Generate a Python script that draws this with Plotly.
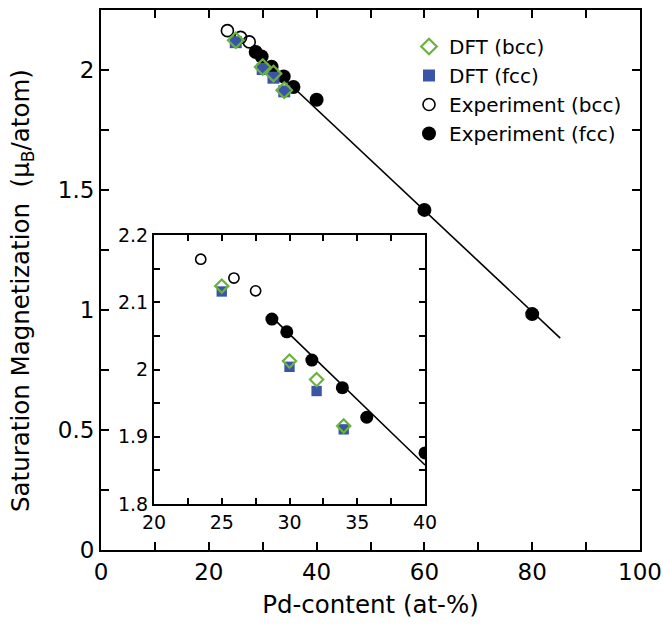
import plotly.graph_objects as go

# Pd content (at-%) and saturation magnetization (mu_B/atom)
exp_bcc_x = [23.45, 25.9, 27.5]
exp_bcc_y = [2.164, 2.136, 2.117]

exp_fcc_x = [28.7, 29.8, 31.65, 33.9, 35.7, 40.0, 60.0, 80.0]
exp_fcc_y = [2.075, 2.056, 2.014, 1.973, 1.929, 1.876, 1.417, 0.983]

dft_bcc_x = [25.0, 30.0, 32.0, 34.0]
dft_bcc_y = [2.124, 2.0125, 1.985, 1.916]

dft_fcc_x = [25.0, 30.0, 32.0, 34.0]
dft_fcc_y = [2.116, 2.004, 1.968, 1.911]

# linear fit through the fcc data (main panel and zoomed panel)
fit_x = [28.7, 85.2]
fit_y = [2.075, 0.883]
fit_inset_x = [28.7, 40.0]
fit_inset_y = [2.078, 1.858]

FONT = "DejaVu Sans, Verdana, sans-serif"
GREEN = "#6ab23e"
BLUE = "#3a54a6"

fig = go.Figure()


def add_panel(xa, ya, show, big):
    s = 1.0 if big else 0.85
    fig.add_trace(go.Scatter(
        x=exp_bcc_x, y=exp_bcc_y, mode="markers", name="Experiment (bcc)",
        xaxis=xa, yaxis=ya, showlegend=show, legendrank=3,
        marker=dict(symbol="circle-open", size=12 * s, color="black",
                    line=dict(width=1.6, color="black"))))
    fig.add_trace(go.Scatter(
        x=exp_fcc_x, y=exp_fcc_y, mode="markers", name="Experiment (fcc)",
        xaxis=xa, yaxis=ya, showlegend=show, legendrank=4,
        marker=dict(symbol="circle", size=14 if big else 13, color="black")))
    fig.add_trace(go.Scatter(
        x=fit_x if big else fit_inset_x, y=fit_y if big else fit_inset_y,
        mode="lines", xaxis=xa, yaxis=ya, showlegend=False, hoverinfo="skip",
        line=dict(color="black", width=1.6), cliponaxis=True))
    fig.add_trace(go.Scatter(
        x=dft_fcc_x, y=dft_fcc_y, mode="markers", name="DFT (fcc)",
        xaxis=xa, yaxis=ya, showlegend=show, legendrank=2,
        marker=dict(symbol="square", size=11 * s + 1, color=BLUE,
                    line=dict(width=0))))
    fig.add_trace(go.Scatter(
        x=dft_bcc_x, y=dft_bcc_y, mode="markers", name="DFT (bcc)",
        xaxis=xa, yaxis=ya, showlegend=show, legendrank=1,
        marker=dict(symbol="diamond-open", size=12 * s, color=GREEN,
                    line=dict(width=2.2, color=GREEN))))


add_panel("x", "y", True, True)
add_panel("x2", "y2", False, False)

W, H = 663, 627


def xd(a, b):
    return [a / W, b / W]


def yd(top, bottom):
    return [1 - bottom / H, 1 - top / H]


axis_common = dict(showline=True, linecolor="black", mirror="allticks",
                   ticks="inside", tickcolor="black", showgrid=False,
                   zeroline=False, fixedrange=True, automargin=False)

fig.update_layout(
    width=W, height=H,
    margin=dict(l=0, r=0, t=0, b=0),
    paper_bgcolor="white", plot_bgcolor="white",
    font=dict(family=FONT, color="black"),
    xaxis=dict(domain=xd(101, 640), range=[0, 100], dtick=20, tick0=0,
               linewidth=2, ticklen=8, tickwidth=1.5,
               minor=dict(dtick=10, ticklen=8, tickwidth=1.5, tickcolor="black", ticks="inside"),
               tickfont=dict(size=23),
               title=dict(text="Pd-content (at-%)", font=dict(size=24.5), standoff=12),
               **axis_common),
    yaxis=dict(domain=yd(10, 550), range=[0, 2.25], dtick=0.5, tick0=0,
               linewidth=2, ticklen=8, tickwidth=1.5,
               minor=dict(dtick=0.25, ticklen=8, tickwidth=1.5, tickcolor="black", ticks="inside"),
               tickfont=dict(size=23),
               **axis_common),
    xaxis2=dict(domain=xd(154, 425), range=[20, 40], dtick=5, tick0=20,
                anchor="y2", linewidth=2, ticklen=6, tickwidth=1.5,
                minor=dict(dtick=2.5, ticklen=6, tickwidth=1.5, tickcolor="black", ticks="inside"),
                tickfont=dict(size=19), **axis_common),
    yaxis2=dict(domain=yd(235, 504), range=[1.8, 2.2], dtick=0.1, tick0=1.8,
                anchor="x2", linewidth=2, ticklen=6, tickwidth=1.5,
                minor=dict(dtick=0.05, ticklen=6, tickwidth=1.5, tickcolor="black", ticks="inside"),
                tickfont=dict(size=19), **axis_common),
    legend=dict(x=409 / W, y=1 - 27 / H, xanchor="left", yanchor="top",
                bgcolor="rgba(0,0,0,0)", font=dict(size=20, family=FONT),
                tracegroupgap=0, itemsizing="trace"),
    annotations=[dict(
        text="Saturation Magnetization  (\u03bc<sub>B</sub>/atom)",
        xref="paper", yref="paper", x=22 / W, y=1 - 291 / H,
        xanchor="center", yanchor="middle", textangle=-90, showarrow=False,
        font=dict(size=24.5, family=FONT))],
)

fig.write_html("out.html")
